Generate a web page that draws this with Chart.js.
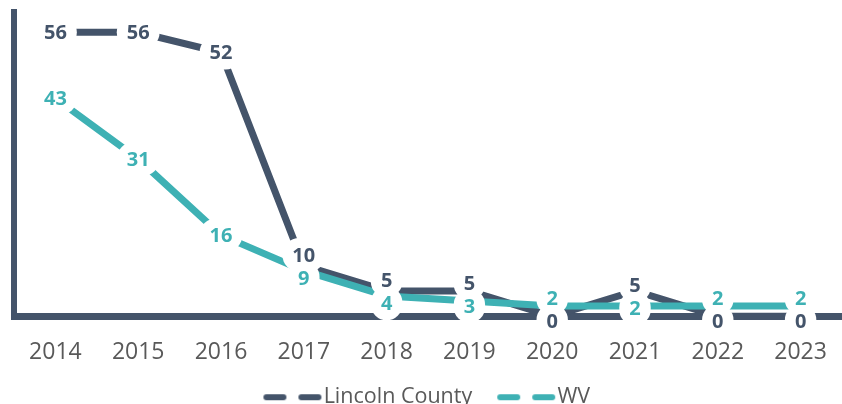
<!DOCTYPE html>
<html>
<head>
<meta charset="utf-8">
<script src="https://cdn.jsdelivr.net/npm/chart.js@4.4.1/dist/chart.umd.min.js"></script>
<style>
  html, body { margin: 0; padding: 0; background: #fff; overflow: hidden; }
  #wrap { position: relative; width: 842px; height: 418px; }
</style>
</head>
<body>
<div id="wrap"><canvas id="chart"></canvas></div>
<script>
// Chart data
const years = ['2014', '2015', '2016', '2017', '2018', '2019', '2020', '2021', '2022', '2023'];
const lincolnCounty = [56, 56, 52, 10, 5, 5, 0, 5, 0, 0];
const wv = [43, 31, 16, 9, 4, 3, 2, 2, 2, 2];

const DARK = '#44546A';
const TEAL = '#3EB1B4';
const GREY = '#595959';

/**
 * Legend marker: two rounded dashes, pushed to the right edge so they
 * sit right next to the legend text like in the Excel original
 */
function dashMarker(color) {
  const c = document.createElement('canvas');
  c.width = 66;
  c.height = 8;
  const g = c.getContext('2d');
  g.strokeStyle = color;
  g.lineWidth = 6;
  g.lineCap = 'round';
  g.beginPath();
  g.moveTo(10, 4); g.lineTo(27, 4);
  g.moveTo(45, 4); g.lineTo(62, 4);
  g.stroke();
  return c;
}

/**
 * Value labels drawn on a white pill, which also cuts the lines behind them
 */
const valueLabels = {
  id: 'valueLabels',
  afterDatasetsDraw(chart) {
    const ctx = chart.ctx;
    const metaA = chart.getDatasetMeta(0);
    const metaB = chart.getDatasetMeta(1);
    const labels = [];

    metaA.data.forEach((a, i) => {
      const b = metaB.data[i];
      let ya = a.y;
      let yb = b.y;
      // push close labels apart, higher value goes on top
      if (Math.abs(a.y - b.y) < 28) {
        const mid = (a.y + b.y) / 2;
        if (a.y <= b.y) { ya = mid - 13; yb = mid + 10; }
        else { yb = mid - 13; ya = mid + 10; }
      }
      labels.push({ x: a.x, y: ya, text: String(lincolnCounty[i]), color: DARK });
      labels.push({ x: b.x, y: yb, text: String(wv[i]), color: TEAL });
    });

    ctx.save();
    ctx.font = 'bold 20px "Open Sans"';
    ctx.textAlign = 'center';
    ctx.textBaseline = 'middle';

    // backgrounds first so no pill hides another label's text
    ctx.fillStyle = '#ffffff';
    labels.forEach(l => {
      const w = ctx.measureText(l.text).width + 20;
      const h = 34;
      ctx.beginPath();
      ctx.roundRect(l.x - w / 2, l.y - h / 2, w, h, 17);
      ctx.fill();
    });

    labels.forEach(l => {
      ctx.fillStyle = l.color;
      ctx.fillText(l.text, l.x, l.y + 1);
    });
    ctx.restore();
  },
};

const ctx = document.getElementById('chart').getContext('2d');

new Chart(ctx, {
  type: 'line',
  data: {
    labels: years,
    datasets: [
      {
        label: 'Lincoln County',
        data: lincolnCounty,
        borderColor: DARK,
        backgroundColor: DARK,
        borderWidth: 7,
        tension: 0,
        pointRadius: 0,
        pointHoverRadius: 0,
        order: 1,
      },
      {
        label: 'WV',
        data: wv,
        borderColor: TEAL,
        backgroundColor: TEAL,
        borderWidth: 7,
        tension: 0,
        pointRadius: 0,
        pointHoverRadius: 0,
        order: 0,
      },
    ],
  },
  options: {
    responsive: true,
    maintainAspectRatio: false,
    animation: false,
    layout: {
      autoPadding: false,
      padding: { top: 12, left: 14, right: 0, bottom: 0 },
    },
    plugins: {
      tooltip: { enabled: false },
      legend: {
        position: 'bottom',
        labels: {
          usePointStyle: true,
          pointStyleWidth: 47,
          padding: 27.5,
          color: GREY,
          font: { family: '"Open Sans"', size: 21.5 },
          generateLabels(chart) {
            return chart.data.datasets.map((ds, i) => ({
              text: ds.label,
              datasetIndex: i,
              fillStyle: ds.borderColor,
              strokeStyle: ds.borderColor,
              fontColor: GREY,
              lineWidth: 0,
              pointStyle: dashMarker(ds.borderColor),
              hidden: false,
            }));
          },
        },
      },
    },
    scales: {
      x: {
        offset: true,
        grid: { display: false, drawTicks: false },
        border: { display: true, color: DARK, width: 7 },
        ticks: {
          color: GREY,
          padding: 25,
          font: { family: '"Open Sans"', size: 23, lineHeight: 1 },
          maxRotation: 0,
          autoSkip: false,
        },
        // keep the band under the axis tight and let the axis run to the edge
        afterFit(scale) {
          scale.height = 42.75;
          scale.paddingLeft = 0;
          scale.paddingRight = 0;
        },
      },
      y: {
        min: 0,
        max: 60,
        grid: { display: false, drawTicks: false },
        border: { display: true, color: DARK, width: 6 },
        ticks: { display: false },
      },
    },
  },
  plugins: [valueLabels],
});
</script>
</body>
</html>
